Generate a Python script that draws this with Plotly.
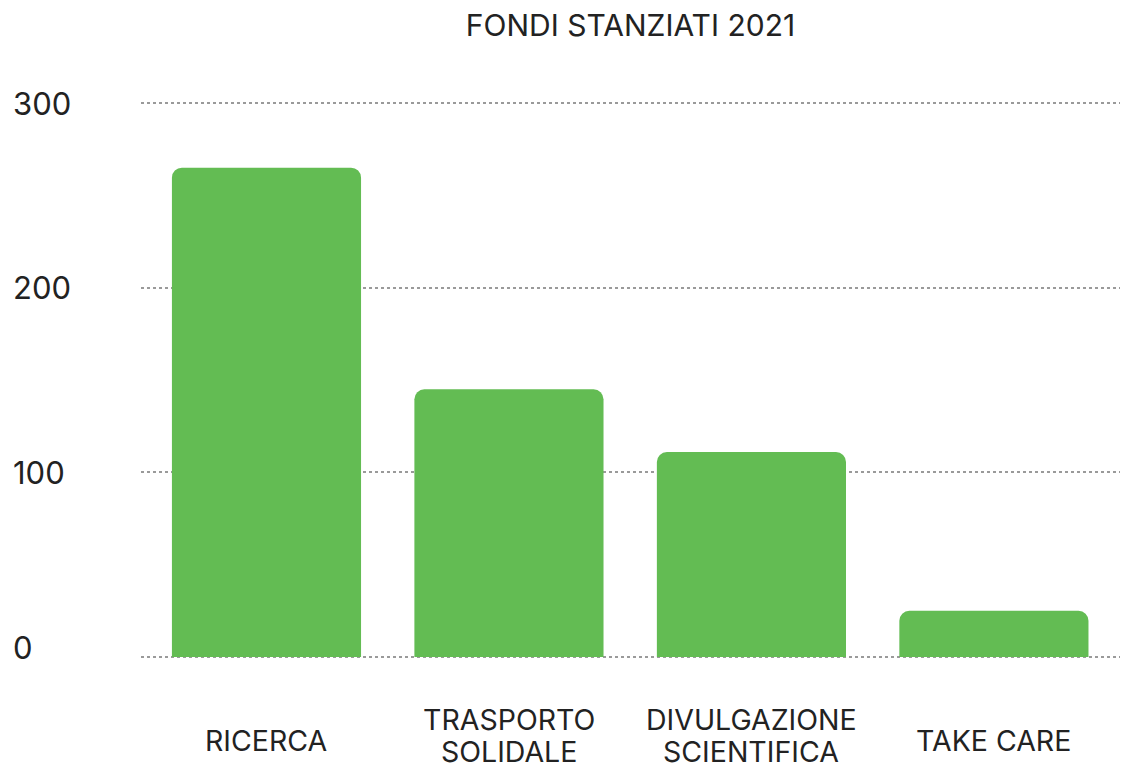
import plotly.graph_objects as go

categories = ["RICERCA", "TRASPORTO<br>SOLIDALE", "DIVULGAZIONE<br>SCIENTIFICA", "TAKE CARE"]
values = [265, 145, 111, 25]
y_ticks = [0, 100, 200, 300]
title_text = "FONDI STANZIATI 2021"

FONT = "Inter"
TXT = "#222222"

PLOT_BOTTOM = 661
PLOT_H = 562


def paper_y(px):
    return (PLOT_BOTTOM - px) / PLOT_H


fig = go.Figure()
fig.add_trace(go.Bar(
    x=list(range(len(categories))),
    y=values,
    marker=dict(color="#63BC53", cornerradius=10, line=dict(width=0)),
    width=0.78,
    hoverinfo="skip",
))

annotations = []
for i, c in enumerate(categories):
    lines = c.split("<br>")
    if len(lines) == 1:
        ys = [740]
    else:
        ys = [719, 751]
    for ln, ypx in zip(lines, ys):
        annotations.append(dict(
            x=i, y=paper_y(ypx), xref="x", yref="paper", text=ln, showarrow=False,
            xanchor="center", yanchor="middle", align="center",
            font=dict(family=FONT, size=28.5, color=TXT),
        ))
for t in y_ticks:
    annotations.append(dict(
        x=-0.133, y=t, xref="paper", yref="y", text=str(t), showarrow=False,
        xanchor="left", yanchor="middle", yshift=10 if t == 0 else 0,
        font=dict(family=FONT, size=31, color=TXT),
    ))

fig.update_layout(
    width=1122, height=769,
    margin=dict(l=141, r=2, t=99, b=108),
    paper_bgcolor="white", plot_bgcolor="white",
    showlegend=False,
    title=dict(text=title_text, x=0.5, xref="paper", y=0.967, yanchor="middle",
               font=dict(family=FONT, size=30, color=TXT)),
    xaxis=dict(range=[-0.5175, 3.52], showticklabels=False, showgrid=False,
               zeroline=False, showline=False, ticks=""),
    yaxis=dict(range=[-2.166, 302.166], tickvals=y_ticks, showticklabels=False,
               showgrid=True, gridcolor="#9a9a9a", griddash="dot", gridwidth=2,
               zeroline=False, showline=False, ticks=""),
    annotations=annotations,
)

fig.write_html("out.html")
